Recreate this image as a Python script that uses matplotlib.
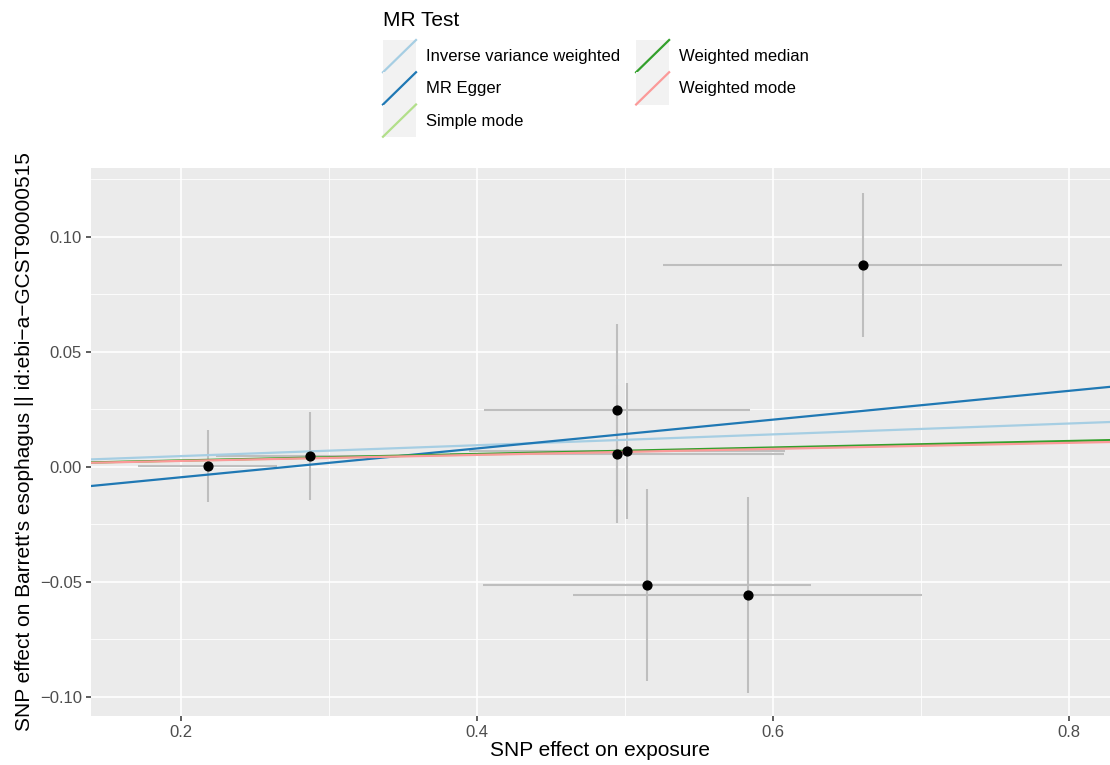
import matplotlib
matplotlib.use("Agg")
import matplotlib.pyplot as plt
import numpy as np
from matplotlib.legend_handler import HandlerBase
from matplotlib.patches import Rectangle
from matplotlib.lines import Line2D
from matplotlib.ticker import FuncFormatter, MultipleLocator

plt.rcParams['font.family'] = ['Liberation Sans', 'DejaVu Sans']

# SNP effects
bx = [0.218, 0.287, 0.4946, 0.4946, 0.5014, 0.5149, 0.583, 0.6608]
by = [0.0004, 0.0048, 0.0248, 0.0057, 0.0070, -0.0513, -0.0557, 0.0878]
bx_se = [0.047, 0.063, 0.090, 0.113, 0.107, 0.111, 0.118, 0.135]
by_se = [0.0157, 0.0190, 0.0375, 0.0300, 0.0295, 0.0417, 0.0425, 0.0315]

# MR estimates
methods = ["Inverse variance weighted", "MR Egger", "Simple mode",
           "Weighted median", "Weighted mode"]
slopes = [0.0236, 0.0626, 0.0135, 0.0141, 0.0131]
intercepts = [0.0, -0.0170, 0.0, 0.0, 0.0]
colours = ["#a6cee3", "#1f78b4", "#b2df8a", "#33a02c", "#fb9a99"]

W, H = 1110, 765
fig = plt.figure(figsize=(W / 100, H / 100), dpi=100)
ax = fig.add_axes([91 / W, 1 - 716 / H, 1 - 91 / W, (716 - 168) / H])
ax.set_facecolor("#EBEBEB")
for s in ax.spines.values():
    s.set_visible(False)

ax.set_xlim(0.1392, 0.828)
ax.set_ylim(-0.1083, 0.1300)

ax.xaxis.set_major_locator(MultipleLocator(0.2))
ax.xaxis.set_minor_locator(MultipleLocator(0.1))
ax.yaxis.set_major_locator(MultipleLocator(0.05))
ax.yaxis.set_minor_locator(MultipleLocator(0.025))
ax.grid(which="major", color="white", lw=1.2)
ax.grid(which="minor", color="white", lw=0.6)
ax.set_axisbelow(True)
ax.tick_params(which="major", length=3.5, width=1.1, color="#333333",
               labelsize=12, labelcolor="#4D4D4D", pad=3)
ax.tick_params(which="minor", length=0)
ax.xaxis.set_major_formatter(FuncFormatter(lambda v, p: f"{v:.1f}"))
ax.yaxis.set_major_formatter(FuncFormatter(lambda v, p: f"{v:.2f}".replace("-", "\u2212")))

ax.errorbar(bx, by, xerr=bx_se, yerr=by_se, fmt="none", ecolor="#BEBEBE",
            elinewidth=1.5, capsize=0, zorder=2)

xs = np.array(ax.get_xlim())
lines = []
for m, b, a, c in zip(methods, slopes, intercepts, colours):
    ln, = ax.plot(xs, a + b * xs, color=c, lw=1.6, label=m, zorder=3)
    lines.append(ln)

ax.scatter(bx, by, s=40, color="black", zorder=4)

ax.set_xlabel("SNP effect on exposure", fontsize=15, labelpad=1)
ax.set_ylabel("SNP effect on Barrett's esophagus || id:ebi\u2212a\u2212GCST90000515",
              fontsize=15, labelpad=4)


class KeyHandler(HandlerBase):
    def create_artists(self, legend, orig_handle, xdescent, ydescent,
                       width, height, fontsize, trans):
        bg = Rectangle((-xdescent, -ydescent), width, height, facecolor="#F2F2F2",
                       edgecolor="none", transform=trans)
        ln = Line2D([-xdescent, -xdescent + width], [-ydescent, -ydescent + height],
                    color=orig_handle.get_color(), lw=1.6, transform=trans)
        return [bg, ln]


fig.text(383 / W, 1 - 20 / H, "MR Test", fontsize=15, va="center", ha="left")
leg = fig.legend(handles=lines, loc="upper left",
                 bbox_to_anchor=(383 / W, 1 - 40 / H), ncol=2,
                 fontsize=12, frameon=False, borderpad=0, borderaxespad=0,
                 handlelength=1.98, handleheight=2.6, labelspacing=0.0,
                 handletextpad=0.6, columnspacing=0.96,
                 handler_map={Line2D: KeyHandler()})

fig.savefig("out.png", dpi=100)
